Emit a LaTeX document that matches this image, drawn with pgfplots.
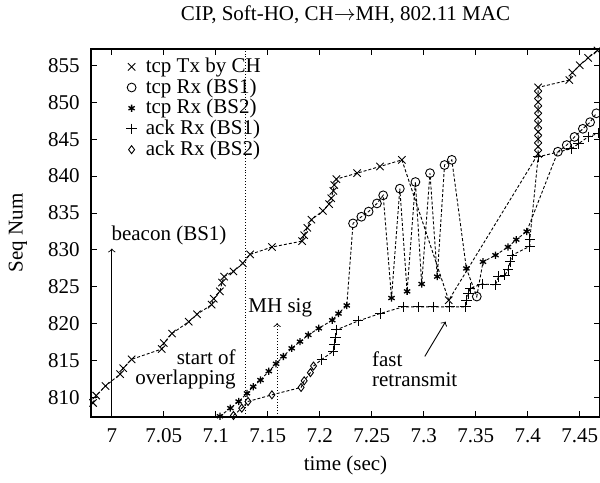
\documentclass[border=0pt]{standalone}
\usepackage{fontspec}
\setmainfont{Liberation Serif}
\usepackage{pgfplots}
\pgfplotsset{compat=1.18}
\begin{document}
\fontsize{10.5}{12}\selectfont
\begin{tikzpicture}
\begin{axis}[
  scale only axis, width=254.5pt, height=184pt,
  xmin=6.98, xmax=7.4695, ymin=807.4, ymax=857.2,
  xtick={7,7.05,7.1,7.15,7.2,7.25,7.3,7.35,7.4,7.45},
  xticklabels={7,7.05,7.1,7.15,7.2,7.25,7.3,7.35,7.4,7.45},
  ytick={810,815,820,825,830,835,840,845,850,855},
  /pgf/number format/assume math mode=true,
  ticklabel style={font=\fontsize{10.5}{12}\selectfont},
  xticklabel style={yshift=-2pt},
  yticklabel style={xshift=-2pt},
  major tick length=3pt, tick align=inside,
  tick style={line width=0.5pt, black},
  axis line style={line width=0.6pt},
  legend style={at={(0.057,0.985)}, anchor=north west, yshift=2.5pt, draw=none, fill=none,
    font=\fontsize{10.5}{10}\selectfont, row sep=-2.5pt, column sep=2.5pt},
  legend cell align=left,
  every axis plot/.append style={line width=0.45pt},
]
% connecting lines
\pgfplotsset{ln/.style={black, dash pattern=on 1.5pt off 1pt, forget plot, no markers}}
\addplot[ln] coordinates {
(6.982,809.3)(6.985,810.3)(6.994,811.6)(7.008,813.2)(7.011,814.0)(7.019,815.2)
(7.048,816.6)(7.050,817.4)(7.058,818.7)(7.074,820.3)(7.082,821.3)(7.096,822.6)
(7.098,823.4)(7.104,824.4)(7.106,825.6)(7.108,826.4)(7.117,827.1)(7.126,828.2)
(7.133,829.4)(7.154,830.4)(7.183,831.2)(7.185,832.0)(7.188,833.0)(7.192,834.1)
(7.203,835.3)(7.209,836.2)(7.211,837.0)(7.213,838.0)(7.214,838.8)(7.216,839.6)
(7.236,840.4)(7.258,841.3)(7.279,842.2)(7.324,823.2)
(7.410,843)(7.410,852)
(7.440,853)(7.443,854)(7.450,855)(7.458,856)(7.467,857)};
\addplot[ln] coordinates {
(7.104,807.5)(7.114,808.6)(7.122,809.5)(7.130,810.6)(7.136,811.5)(7.143,812.4)
(7.151,813.6)(7.158,814.6)(7.165,815.6)(7.173,816.7)(7.181,817.6)(7.189,818.5)
(7.199,819.4)(7.212,820.5)(7.218,821.4)(7.226,822.5)
(7.232,833.6)(7.240,834.5)(7.247,835.2)(7.255,836.3)(7.261,837.4)
(7.269,823.5)(7.277,838.3)(7.284,824.4)(7.292,839.2)(7.298,825.4)(7.306,840.4)
(7.313,826.4)(7.320,841.5)(7.327,842.2)(7.341,827.5)(7.351,823.7)
(7.357,828.4)(7.369,829.3)(7.381,830.4)(7.389,831.4)(7.399,832.5)
(7.429,843.3)(7.4375,844.2)(7.445,845.3)(7.453,846.4)(7.460,847.3)(7.466,848.5)};
\addplot[ln] coordinates {
(7.117,807.6)(7.125,808.6)(7.131,809.5)(7.154,810.4)(7.182,811.4)(7.185,812.3)
(7.191,813.4)(7.194,814.3)(7.202,815.2)(7.213,816.3)(7.214,817.2)(7.215,818.1)
(7.216,819.2)(7.237,820.4)(7.258,821.4)(7.280,822.3)(7.295,822.3)(7.309,822.3)
(7.325,822.3)(7.340,822.3)(7.341,823.2)(7.343,824.1)(7.3445,824.8)(7.356,825.4)
(7.369,825.3)(7.372,826.4)(7.378,826.6)(7.381,827.3)(7.383,828.4)(7.385,829.3)
(7.402,830.5)(7.402,831.4)(7.410,842.6)(7.442,843.7)(7.449,844.4)(7.458,845.3)(7.468,845.8)};
% vertical markers
\addplot[black, densely dotted, forget plot] coordinates {(7.129,807.4)(7.129,857.2)};
\addplot[black, ->, forget plot] coordinates {(7.0,807.4)(7.0,830.2)};
\addplot[black, densely dotted, ->, forget plot] coordinates {(7.159,807.4)(7.159,820.1)};
\addplot[black, ->, forget plot] coordinates {(7.301,815.6)(7.321,820.3)};
% marks
\addplot[only marks, mark=x, mark size=2.6pt, black] coordinates {
(6.982,809.3)(6.985,810.3)(6.994,811.6)(7.008,813.2)(7.011,814.0)(7.019,815.2)
(7.048,816.6)(7.050,817.4)(7.058,818.7)(7.074,820.3)(7.082,821.3)(7.096,822.6)
(7.098,823.4)(7.104,824.4)(7.106,825.6)(7.108,826.4)(7.117,827.1)(7.126,828.2)
(7.133,829.4)(7.154,830.4)(7.183,831.2)(7.185,832.0)(7.188,833.0)(7.192,834.1)
(7.203,835.3)(7.209,836.2)(7.211,837.0)(7.213,838.0)(7.214,838.8)(7.216,839.6)
(7.236,840.4)(7.258,841.3)(7.279,842.2)(7.324,823.2)
(7.410,843)(7.410,844)(7.410,845)(7.410,846)(7.410,847)(7.410,848)(7.410,849)
(7.410,850)(7.410,851)(7.410,852)
(7.440,853)(7.443,854)(7.450,855)(7.458,856)(7.467,857)};
\addlegendentry{tcp Tx by CH}
\addplot[only marks, mark=o, mark size=2.2pt, black] coordinates {
(7.232,833.6)(7.240,834.5)(7.247,835.2)(7.255,836.3)(7.261,837.4)
(7.277,838.3)(7.292,839.2)(7.306,840.4)(7.320,841.5)(7.327,842.2)(7.351,823.7)
(7.429,843.3)(7.4375,844.2)(7.445,845.3)(7.453,846.4)(7.460,847.3)(7.466,848.5)};
\addlegendentry{tcp Rx (BS1)}
\addplot[only marks, mark=asterisk, mark size=1.8pt, black, line width=0.65pt] coordinates {
(7.104,807.5)(7.114,808.6)(7.122,809.5)(7.130,810.6)(7.136,811.5)(7.143,812.4)
(7.151,813.6)(7.158,814.6)(7.165,815.6)(7.173,816.7)(7.181,817.6)(7.189,818.5)
(7.199,819.4)(7.212,820.5)(7.218,821.4)(7.226,822.5)
(7.269,823.5)(7.284,824.4)(7.298,825.4)(7.313,826.4)(7.341,827.5)
(7.357,828.4)(7.369,829.3)(7.381,830.4)(7.389,831.4)(7.399,832.5)};
\addlegendentry{tcp Rx (BS2)}
\addplot[only marks, mark=+, mark size=2.6pt, black] coordinates {
(7.202,815.2)(7.213,816.3)(7.214,817.2)(7.215,818.1)
(7.216,819.2)(7.237,820.4)(7.258,821.4)(7.280,822.3)(7.295,822.3)(7.309,822.3)
(7.325,822.3)(7.340,822.3)(7.341,823.2)(7.343,824.1)(7.3445,824.8)(7.356,825.4)
(7.369,825.3)(7.372,826.4)(7.378,826.6)(7.381,827.3)(7.383,828.4)(7.385,829.3)
(7.402,830.5)(7.402,831.4)(7.410,842.6)(7.442,843.7)(7.449,844.4)(7.458,845.3)(7.468,845.8)};
\addlegendentry{ack Rx (BS1)}
\addplot[only marks, mark=diamond, mark size=2pt, black] coordinates {
(7.117,807.6)(7.125,808.6)(7.131,809.5)(7.154,810.4)(7.182,811.4)(7.185,812.3)
(7.191,813.4)(7.194,814.3)};
\addlegendentry{ack Rx (BS2)}
% annotations
\node at (axis cs:7.055,832.0) {beacon (BS1)};
\node[align=right, anchor=east, inner sep=0pt] at (axis cs:7.1195,813.8) {start of\\[-2pt]overlapping};
\node at (axis cs:7.162,822.2) {MH sig};
\node[align=left, anchor=west, inner sep=0pt] at (axis cs:7.250,813.9) {fast\\[-2pt]retransmit};
\end{axis}
\node at ([yshift=17pt]current axis.north) {CIP, Soft-HO, CH$\rightarrow$MH, 802.11 MAC};
\node at ([yshift=-24.3pt]current axis.south) {time (sec)};
\node[rotate=90] at ([xshift=-36.5pt]current axis.west) {Seq Num};
\pgfresetboundingbox
\path ([xshift=-45.5pt,yshift=-32.85pt]current axis.south west) rectangle ([yshift=24.5pt]current axis.north east);
\end{tikzpicture}
\end{document}
